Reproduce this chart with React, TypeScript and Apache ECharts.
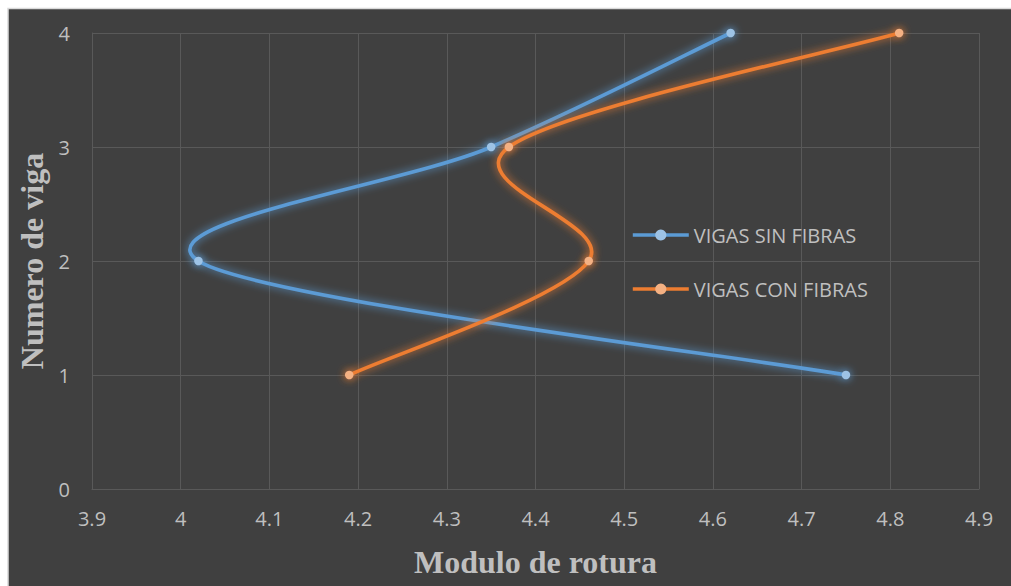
import React, { useEffect, useRef } from "react";
import * as echarts from "echarts";

const vigaNumbers = [1, 2, 3, 4];
const sinFibras = [4.75, 4.02, 4.35, 4.62];
const conFibras = [4.19, 4.46, 4.37, 4.81];
const seriesNames = ["VIGAS SIN FIBRAS", "VIGAS CON FIBRAS"];
const lineColors = ["#5b9bd5", "#ed7d31"];
const markerColors = ["#9dc3e6", "#f4b183"];
const xAxisTitle = "Modulo de rotura";
const yAxisTitle = "Numero de viga";

const pair = (xs: number[]) => xs.map((x, i) => [x, vigaNumbers[i]]);

export default function App() {
  const ref = useRef<HTMLDivElement>(null);
  useEffect(() => {
    document.body.style.margin = "0";
    document.body.style.overflow = "hidden";
    const chart = echarts.init(ref.current!, null, { renderer: "svg" });
    const labelFont = { color: "#bfbfbf", fontFamily: "Open Sans", fontSize: 20 };
    const titleFont = { color: "#bfbfbf", fontFamily: "Liberation Serif", fontWeight: "bold", fontSize: 32 };

    // Excel-like smoothed curve (cardinal spline, tension 1/6) drawn via the axis scales
    const mkCurve = (xs: number[], color: string) => ({
      type: "custom",
      name: "curve-" + color,
      coordinateSystem: "cartesian2d",
      data: pair(xs),
      clip: false,
      silent: true,
      z: 2,
      renderItem: (params: any, api: any) => {
        const i = params.dataIndex;
        const n = xs.length;
        if (i >= n - 1) return null;
        const P = (j: number) => {
          const k = Math.max(0, Math.min(n - 1, j));
          return api.coord([xs[k], vigaNumbers[k]]);
        };
        const p0 = P(i - 1), p1 = P(i), p2 = P(i + 1), p3 = P(i + 2);
        const cp1 = [p1[0] + (p2[0] - p0[0]) / 6, p1[1] + (p2[1] - p0[1]) / 6];
        const cp2 = [p2[0] - (p3[0] - p1[0]) / 6, p2[1] - (p3[1] - p1[1]) / 6];
        return {
          type: "bezierCurve",
          shape: {
            x1: p1[0], y1: p1[1], x2: p2[0], y2: p2[1],
            cpx1: cp1[0], cpy1: cp1[1], cpx2: cp2[0], cpy2: cp2[1],
          },
          style: {
            stroke: color,
            lineWidth: 3.6,
            fill: null,
            lineCap: "round",
            shadowColor: color,
            shadowBlur: 9,
          },
        };
      },
    });

    const mkMarkers = (name: string, xs: number[], color: string, marker: string) => ({
      name,
      type: "line",
      data: pair(xs),
      symbol: "circle",
      symbolSize: 8.5,
      showSymbol: true,
      lineStyle: { color, width: 0, opacity: 0 },
      itemStyle: { color: marker, borderWidth: 0, shadowColor: color, shadowBlur: 9 },
      z: 3,
    });

    chart.setOption({
      animation: false,
      backgroundColor: "#ffffff",
      graphic: [
        {
          type: "rect",
          shape: { x: 8, y: 8.5, width: 1010, height: 590 },
          style: { fill: "#404040", stroke: "#d9d9d9", lineWidth: 1.5 },
          z: -10,
        },
      ],
      grid: { left: 92, right: 32, top: 33, bottom: 97, containLabel: false },
      xAxis: {
        type: "value",
        min: 3.9,
        max: 4.9,
        interval: 0.1,
        name: xAxisTitle,
        nameLocation: "middle",
        nameGap: 57,
        nameTextStyle: titleFont,
        axisLine: { show: true, lineStyle: { color: "#595959" } },
        axisTick: { show: false },
        splitLine: { show: true, lineStyle: { color: "#595959", width: 1 } },
        axisLabel: { ...labelFont, margin: 19, formatter: (v: number) => String(Math.round(v * 10) / 10) },
      },
      yAxis: {
        type: "value",
        min: 0,
        max: 4,
        interval: 1,
        name: yAxisTitle,
        nameLocation: "middle",
        nameGap: 43,
        nameRotate: 90,
        nameTextStyle: titleFont,
        axisLine: { show: true, lineStyle: { color: "#595959" } },
        axisTick: { show: false },
        splitLine: { show: true, lineStyle: { color: "#595959", width: 1 } },
        axisLabel: { ...labelFont, margin: 22 },
      },
      legend: {
        orient: "vertical",
        left: 631,
        top: 225,
        padding: 0,
        itemWidth: 56,
        itemHeight: 14,
        itemGap: 34,
        textStyle: { color: "#bfbfbf", fontFamily: "Open Sans", fontSize: 20 },
        data: seriesNames.map((name, i) => ({
          name,
          lineStyle: { color: lineColors[i], width: 3.6, opacity: 1 },
          itemStyle: { color: markerColors[i] },
        })),
      },
      series: [
        mkCurve(sinFibras, lineColors[0]),
        mkCurve(conFibras, lineColors[1]),
        mkMarkers(seriesNames[0], sinFibras, lineColors[0], markerColors[0]),
        mkMarkers(seriesNames[1], conFibras, lineColors[1], markerColors[1]),
      ],
    });
    return () => chart.dispose();
  }, []);
  return <div ref={ref} style={{ width: 1011, height: 586 }} />;
}
